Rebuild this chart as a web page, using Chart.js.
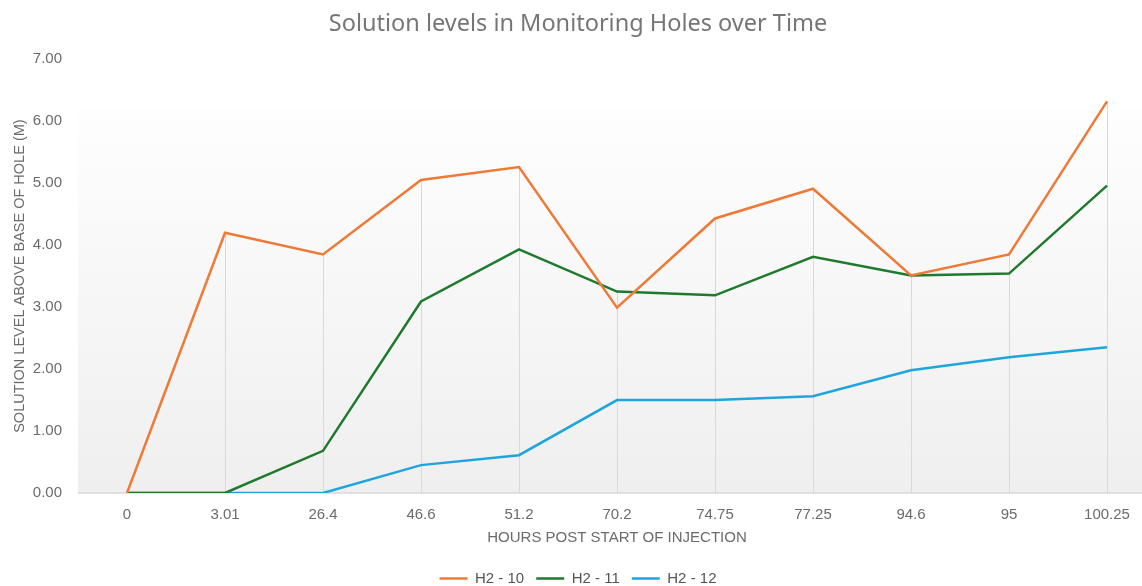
<!DOCTYPE html>
<html>
<head>
<meta charset="utf-8">
<title>Solution levels in Monitoring Holes over Time</title>
<script src="https://cdn.jsdelivr.net/npm/chart.js@4/dist/chart.umd.min.js"></script>
<style>
  html, body { margin: 0; padding: 0; background: #fff; overflow: hidden; }
  #wrap { width: 1162px; height: 586px; }
</style>
</head>
<body>
<div id="wrap"><canvas id="levelChart" width="1162" height="586"></canvas></div>
<script>
// hours post start of injection (category labels)
const hours = ['0', '3.01', '26.4', '46.6', '51.2', '70.2', '74.75', '77.25', '94.6', '95', '100.25'];

// solution level above base of hole (m)
const h2_10 = [0, 4.20, 3.85, 5.05, 5.26, 2.99, 4.43, 4.91, 3.51, 3.85, 6.32];
const h2_11 = [0, 0, 0.68, 3.09, 3.93, 3.25, 3.19, 3.81, 3.51, 3.54, 4.96];
const h2_12 = [0, 0, 0, 0.45, 0.61, 1.50, 1.50, 1.56, 1.98, 2.19, 2.35];

const seriesNames = ['H2 - 10', 'H2 - 11', 'H2 - 12'];
const seriesColors = ['#EE7A37', '#1F7A2E', '#1FA5DE'];

const yTicks = [0, 1, 2, 3, 4, 5, 6, 7];

const tickFont = { family: '"Liberation Sans", Arial, sans-serif', size: 15 };
const textGray = '#6b6b6b';

// plot fill (soft gradient) + drop lines from the highest point of each category
const plotDecor = {
  id: 'plotDecor',
  beforeDatasetsDraw(chart) {
    const { ctx, chartArea, scales } = chart;
    const x = scales.x, y = scales.y;
    const top = y.getPixelForValue(6.2);
    const g = ctx.createLinearGradient(0, top, 0, chartArea.bottom);
    g.addColorStop(0, '#fefefe');
    g.addColorStop(1, '#efefef');
    ctx.save();
    ctx.fillStyle = g;
    ctx.fillRect(chartArea.left, top, chartArea.right - chartArea.left, chartArea.bottom - top);

    // drop lines
    ctx.strokeStyle = '#d9d9d9';
    ctx.lineWidth = 1;
    hours.forEach((h, i) => {
      const hi = Math.max(h2_10[i], h2_11[i], h2_12[i]);
      if (hi <= 0) return;
      const px = Math.round(x.getPixelForValue(i)) + 0.5;
      ctx.beginPath();
      ctx.moveTo(px, y.getPixelForValue(hi));
      ctx.lineTo(px, y.getPixelForValue(0));
      ctx.stroke();
    });

    // category axis baseline
    ctx.lineWidth = 1.5;
    const by = y.getPixelForValue(0);
    ctx.beginPath();
    ctx.moveTo(chartArea.left, by);
    ctx.lineTo(chartArea.right, by);
    ctx.stroke();
    ctx.restore();
  }
};

const ctx = document.getElementById('levelChart');
const levelChart = new Chart(ctx, {
  type: 'line',
  data: {
    labels: hours,
    datasets: [h2_10, h2_11, h2_12].map((vals, i) => ({
      label: seriesNames[i],
      data: vals,
      borderColor: seriesColors[i],
      backgroundColor: seriesColors[i],
      borderWidth: 2.5,
      pointRadius: 0,
      tension: 0,
      fill: false
    }))
  },
  options: {
    responsive: false,
    animation: false,
    layout: { padding: { left: 0, right: 6, top: 10, bottom: -10 } },
    plugins: {
      title: {
        display: true,
        text: 'Solution levels in Monitoring Holes over Time',
        color: '#767676',
        font: { family: '"Noto Sans", "Open Sans", sans-serif', size: 23.5, weight: 'normal' },
        padding: { top: 0, bottom: 21 }
      },
      legend: {
        position: 'bottom',
        labels: {
          usePointStyle: true,
          pointStyle: 'line',
          pointStyleWidth: 28,
          boxHeight: 2,
          color: '#555',
          font: tickFont,
          padding: 12
        }
      },
      tooltip: { enabled: false }
    },
    scales: {
      x: {
        offset: true,
        afterFit(scale) {
          scale.height = 66;
        },
        grid: { display: false, drawTicks: false },
        border: { display: false },
        ticks: { color: textGray, font: tickFont, padding: 13, maxRotation: 0 },
        title: {
          display: true,
          text: 'HOURS POST START OF INJECTION',
          color: textGray,
          font: tickFont,
          padding: { top: 4, bottom: 12 }
        }
      },
      y: {
        min: 0,
        max: 7,
        afterBuildTicks(scale) {
          scale.ticks = yTicks.map(v => ({ value: v }));
        },
        afterFit(scale) {
          scale.width = 78;
        },
        grid: { display: false, drawTicks: false },
        border: { display: false },
        ticks: {
          color: textGray,
          font: tickFont,
          padding: 16,
          callback: v => Number(v).toFixed(2)
        },
        title: {
          display: true,
          text: 'SOLUTION LEVEL ABOVE BASE OF HOLE (M)',
          color: textGray,
          font: { family: '"Liberation Sans", Arial, sans-serif', size: 14.5 },
          padding: { top: 11, bottom: 0 }
        }
      }
    }
  },
  plugins: [plotDecor]
});
</script>
</body>
</html>
